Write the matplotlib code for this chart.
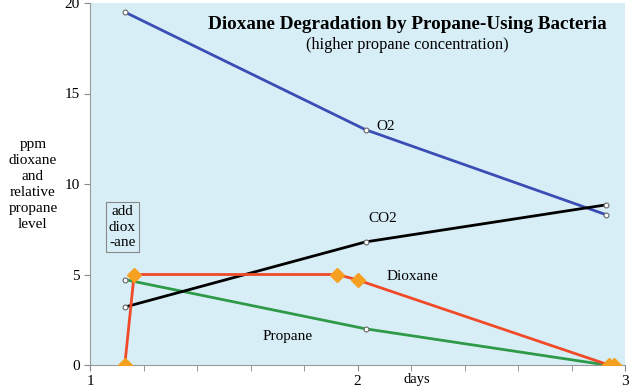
import matplotlib

matplotlib.use("Agg")
import matplotlib.pyplot as plt

plt.rcParams["font.family"] = ["Liberation Serif", "DejaVu Serif"]

# series (x in days, y in ppm / relative level)
o2_days = [1.13, 2.03, 2.93]
o2_vals = [19.5, 13.0, 8.3]
co2_days = [1.13, 2.03, 2.93]
co2_vals = [3.2, 6.8, 8.85]
propane_days = [1.13, 2.03, 2.93]
propane_vals = [4.72, 2.0, 0.0]
dioxane_days = [1.13, 1.165, 1.925, 2.0, 2.94, 2.96]
dioxane_vals = [0.0, 5.0, 5.0, 4.7, 0.0, 0.0]

x_ticks = [1, 2, 3]
y_ticks = [0, 5, 10, 15, 20]

fig = plt.figure(figsize=(6.4, 3.92), dpi=100)
ax = fig.add_axes([90 / 640, 1 - 365 / 392, 535 / 640, 362 / 392])
ax.set_facecolor("#d8eef6")

marker_style = dict(marker="o", markersize=3.5, markerfacecolor="white",
                    markeredgecolor="#666666", markeredgewidth=0.8)
ax.plot(o2_days, o2_vals, color="#3a4db5", linewidth=2, zorder=3, **marker_style)
ax.plot(co2_days, co2_vals, color="black", linewidth=2, zorder=3, **marker_style)
ax.plot(propane_days, propane_vals, color="#2e9a48", linewidth=2, zorder=2, **marker_style)
ax.plot(dioxane_days, dioxane_vals, color="#f04a28", linewidth=2, zorder=4,
        marker="D", markersize=7, markerfacecolor="#f5a020", markeredgecolor="#f5a020")

ax.set_xlim(1, 3)
ax.set_ylim(0, 20)
ax.set_xticks(x_ticks)
ax.set_xticks([1.2, 1.4, 1.6, 1.8, 2.2, 2.4, 2.6, 2.8], minor=True)
ax.set_yticks(y_ticks)
ax.tick_params(axis="both", labelsize=11, color="#888888", length=4)
ax.tick_params(axis="x", which="minor", color="#888888", length=4)
ax.tick_params(axis="x", pad=3)
for side in ("top", "right"):
    ax.spines[side].set_visible(False)
for side in ("left", "bottom"):
    ax.spines[side].set_color("#999999")

ax.text(0.594, 0.94, "Dioxane Degradation by Propane-Using Bacteria",
        transform=ax.transAxes, ha="center", va="center", fontsize=13.8, fontweight="bold")
ax.text(0.594, 0.885, "(higher propane concentration)", transform=ax.transAxes,
        ha="center", va="center", fontsize=11.8)

ax.text(2.07, 13.2, "O2", fontsize=11, ha="left", va="center")
ax.text(2.04, 8.1, "CO2", fontsize=11, ha="left", va="center")
ax.text(2.11, 4.9, "Dioxane", fontsize=11, ha="left", va="center")
ax.text(1.645, 1.6, "Propane", fontsize=11, ha="left", va="center")

ax.text(1.12, 7.62, "add\ndiox\n-ane", fontsize=11, ha="center", va="center",
        linespacing=1.28,
        bbox=dict(boxstyle="square,pad=0.2", facecolor="none", edgecolor="#888888", linewidth=0.8))

fig.text(33 / 640, 1 - 185 / 392, "ppm\ndioxane\nand\nrelative\npropane\nlevel",
         ha="center", va="center", fontsize=11, linespacing=1.3)
fig.text(417 / 640, 1 - 380 / 392, "days", ha="center", va="center", fontsize=10.5)

fig.savefig("out.png", dpi=100)
